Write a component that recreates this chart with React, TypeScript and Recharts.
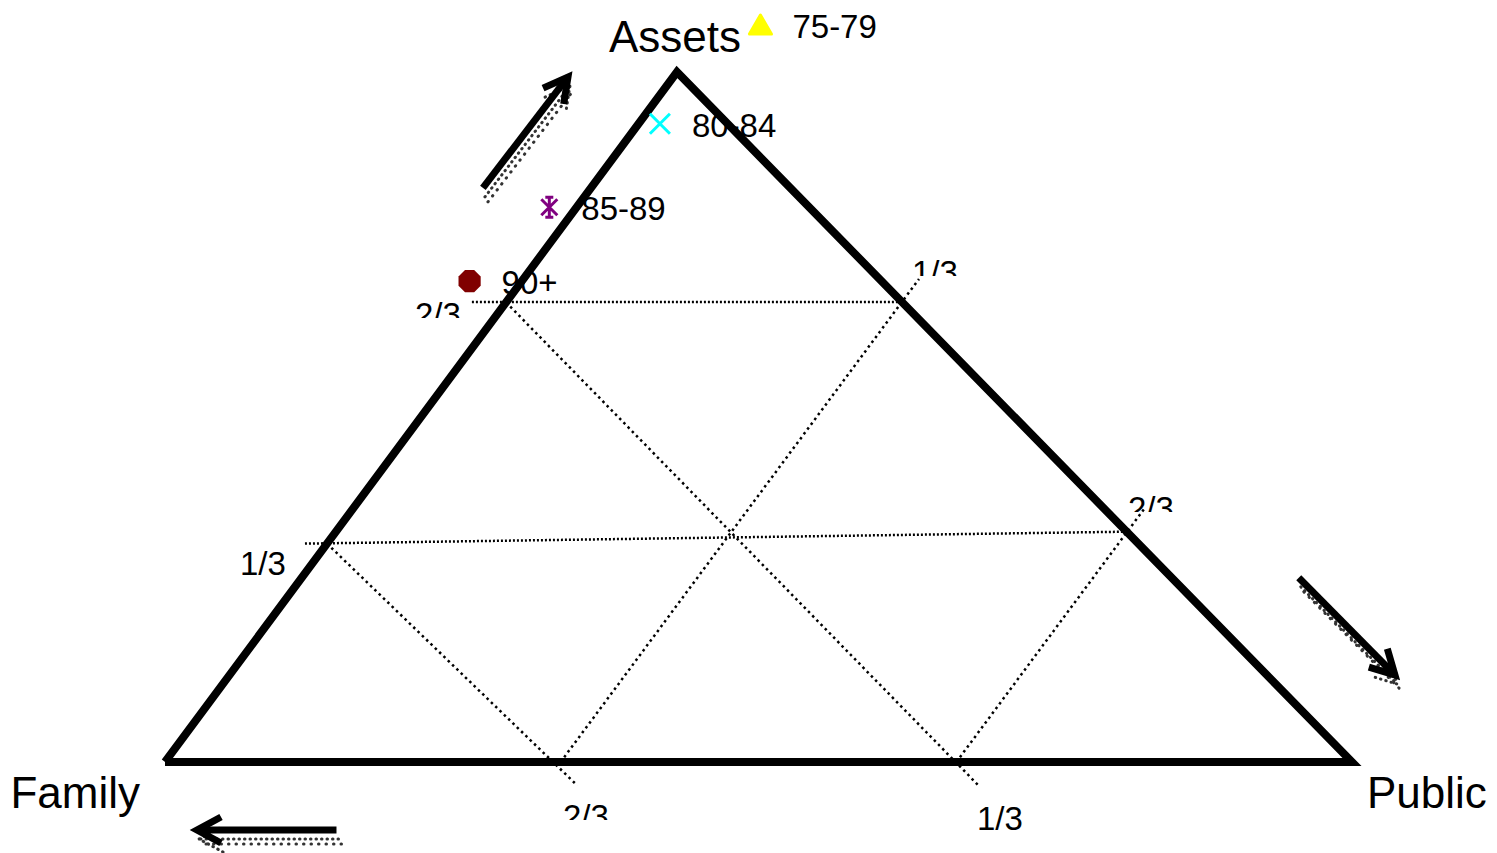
import { ScatterChart, Scatter, XAxis, YAxis } from "recharts";

// Ternary diagram of how old-age support is split between Family, Public
// and Assets, one marker per age group. Every position is given as
// (assets share, public share); the family share is what is left over.

const W = 1497;
const H = 853;

// the Assets corner sits this far along the Family -> Public base
const APEX_SHIFT = 0.4313;

const AGE_GROUPS = ["75-79", "80-84", "85-89", "90+"];
const AGE_ASSETS = [1.068, 0.925, 0.804, 0.697];
const AGE_PUBLIC = [0.041, 0.018, -0.023, -0.044];

const CORNERS = ["Family", "Assets", "Public"];
const CORNER_ASSETS = [0, 1, 0];
const CORNER_PUBLIC = [0, 0, 1];

// guide lines at 1/3 and 2/3: [assets, public] of start and end
const GUIDE_FROM = [
  [0.6667, -0.029],
  [0.3165, -0.0186],
  [0, 0.3333],
  [0, 0.6667],
  [0.6662, 0],
  [0.3165, 0],
];
const GUIDE_TO = [
  [0.6667, 0.3333],
  [0.3338, 0.6662],
  [0.7, 0.3333],
  [0.367, 0.6667],
  [-0.034, 0.7],
  [-0.034, 0.362],
];

const GUIDE_LABELS = ["2/3", "1/3", "1/3", "2/3", "2/3", "1/3"];
const GUIDE_LABEL_ASSETS = [0.6319, 0.271, 0.6928, 0.3507, -0.0957, -0.0986];
const GUIDE_LABEL_PUBLIC = [-0.0619, -0.0537, 0.3305, 0.66, 0.3766, 0.7266];
const GUIDE_LABEL_CUT = [true, false, true, true, true, false];

// direction arrows next to each side
const ARROW_FROM = [
  [0.832, -0.091],
  [0.267, 0.84],
  [-0.0986, 0.187],
];
const ARROW_TO = [
  [0.9928, -0.0887],
  [0.1261, 0.9818],
  [-0.0986, 0.0695],
];

const FONT = "'Liberation Sans', Arial, sans-serif";

const toXY = (assets: number, pub: number) => ({
  x: pub + APEX_SHIFT * assets,
  y: assets,
});

const X_DOMAIN = [-165 / 1187, 1332 / 1187];
const Y_DOMAIN = [-91 / 690, 762 / 690];

const ageData = AGE_GROUPS.map((name, i) => ({
  name,
  ...toXY(AGE_ASSETS[i], AGE_PUBLIC[i]),
}));

const cornerData = CORNERS.map((name, i) => ({
  name,
  ...toXY(CORNER_ASSETS[i], CORNER_PUBLIC[i]),
}));
const triangleData = [...cornerData, cornerData[0]];

const guideData = GUIDE_FROM.map((from, i) => [
  toXY(from[0], from[1]),
  toXY(GUIDE_TO[i][0], GUIDE_TO[i][1]),
]);

const guideLabelData = GUIDE_LABELS.map((name, i) => ({
  name,
  cut: GUIDE_LABEL_CUT[i],
  ...toXY(GUIDE_LABEL_ASSETS[i], GUIDE_LABEL_PUBLIC[i]),
}));

const arrowData = ARROW_FROM.map((from, i) => [
  toXY(from[0], from[1]),
  toXY(ARROW_TO[i][0], ARROW_TO[i][1]),
]);

const Nothing = () => <g />;

function AgeMarker(props: any) {
  const { cx, cy, payload } = props;
  let mark: any = null;
  if (payload.name === "75-79") {
    mark = (
      <path
        d={`M${cx},${cy - 10} L${cx + 11},${cy + 9} L${cx - 11},${cy + 9} Z`}
        fill="#FFFF00"
        stroke="#FFFF00"
        strokeWidth={3}
        strokeLinejoin="round"
      />
    );
  } else if (payload.name === "80-84") {
    mark = (
      <path
        d={`M${cx - 10},${cy - 10} L${cx + 10},${cy + 10} M${cx + 10},${cy - 10} L${cx - 10},${cy + 10}`}
        stroke="#00FFFF"
        strokeWidth={3}
      />
    );
  } else if (payload.name === "85-89") {
    mark = (
      <path
        d={`M${cx - 8},${cy - 8} L${cx + 8},${cy + 8} M${cx + 8},${cy - 8} L${cx - 8},${cy + 8} M${cx},${cy - 10} L${cx},${cy + 10} M${cx - 4},${cy - 10} L${cx + 4},${cy - 10} M${cx - 4},${cy + 10} L${cx + 4},${cy + 10}`}
        stroke="#800080"
        strokeWidth={3}
      />
    );
  } else {
    const r = 12;
    const pts = Array.from({ length: 8 }, (_, k) => {
      const a = ((k + 0.5) * Math.PI) / 4;
      return `${cx + r * Math.cos(a)},${cy + r * Math.sin(a)}`;
    }).join(" ");
    mark = <polygon points={pts} fill="#800000" />;
  }
  return (
    <g>
      {mark}
      <text x={cx + 32} y={cy + 13} fontSize={33} fontFamily={FONT} fill="#000">
        {payload.name}
      </text>
    </g>
  );
}

// corner titles sit outside each corner
const TITLE_POS: Record<string, { dx: number; dy: number; anchor: "start" | "middle" | "end" }> = {
  Family: { dx: -25, dy: 46, anchor: "end" },
  Assets: { dx: -2, dy: -20, anchor: "middle" },
  Public: { dx: 15, dy: 46, anchor: "start" },
};

function CornerTitle(props: any) {
  const { cx, cy, payload } = props;
  const pos = TITLE_POS[payload.name];
  if (!pos) return <g />;
  return (
    <text
      x={cx + pos.dx}
      y={cy + pos.dy}
      textAnchor={pos.anchor}
      fontSize={44}
      fontFamily={FONT}
      fill="#000"
    >
      {payload.name}
    </text>
  );
}

function GuideLabel(props: any) {
  const { cx, cy, payload, index } = props;
  const id = `guide-cut-${index}`;
  return (
    <g>
      {payload.cut && (
        <defs>
          <clipPath id={id}>
            <rect x={cx - 5} y={cy - 40} width={70} height={32} />
          </clipPath>
        </defs>
      )}
      <text
        x={cx}
        y={cy}
        fontSize={33}
        fontFamily={FONT}
        fill="#000"
        clipPath={payload.cut ? `url(#${id})` : undefined}
      >
        {payload.name}
      </text>
    </g>
  );
}

const SHADOW = {
  stroke: "#333",
  strokeWidth: 3,
  strokeLinecap: "round" as const,
};

export default function App() {
  return (
    <div style={{ position: "absolute", left: 0, top: 0, width: W, height: H, background: "#fff" }}>
      <ScatterChart width={W} height={H} margin={{ top: 0, right: 0, bottom: 0, left: 0 }}>
        <defs>
          <marker
            id="head"
            markerUnits="userSpaceOnUse"
            viewBox="-40 -25 60 50"
            markerWidth={60}
            markerHeight={50}
            refX={0}
            refY={0}
            orient="auto"
          >
            <path d="M-24,-13 L0,0 L-24,13" fill="none" stroke="#000" strokeWidth={7} />
          </marker>
          <marker
            id="head-shadow"
            markerUnits="userSpaceOnUse"
            viewBox="-40 -25 60 50"
            markerWidth={60}
            markerHeight={50}
            refX={0}
            refY={0}
            orient="auto"
          >
            <path
              d="M-24,-13 L0,0 L-24,13"
              fill="none"
              stroke="#333"
              strokeWidth={3}
              strokeDasharray="0.5 5"
              strokeLinecap="round"
            />
          </marker>
        </defs>
        <XAxis type="number" dataKey="x" domain={X_DOMAIN} hide allowDataOverflow />
        <YAxis type="number" dataKey="y" domain={Y_DOMAIN} hide allowDataOverflow />

        {guideData.map((seg, i) => (
          <Scatter
            key={`guide-${i}`}
            data={seg}
            line={{ stroke: "#000", strokeWidth: 2.5, strokeDasharray: i < 2 ? "2 2" : "2.5 3.5" }}
            lineType="joint"
            shape={Nothing}
            isAnimationActive={false}
          />
        ))}

        <Scatter
          data={triangleData}
          line={{ stroke: "#000", strokeWidth: 8, strokeLinejoin: "miter" }}
          lineType="joint"
          shape={Nothing}
          isAnimationActive={false}
        />

        {arrowData.map((seg, i) => (
          <Scatter
            key={`arrow-shadow-a-${i}`}
            data={seg}
            line={{
              ...SHADOW,
              strokeDasharray: "0.5 5",
              transform: "translate(2,9)",
              markerEnd: "url(#head-shadow)",
            }}
            lineType="joint"
            shape={Nothing}
            isAnimationActive={false}
          />
        ))}
        {arrowData.map((seg, i) => (
          <Scatter
            key={`arrow-shadow-b-${i}`}
            data={seg}
            line={{
              ...SHADOW,
              strokeDasharray: "0.5 7",
              transform: "translate(5,14)",
            }}
            lineType="joint"
            shape={Nothing}
            isAnimationActive={false}
          />
        ))}
        {arrowData.map((seg, i) => (
          <Scatter
            key={`arrow-${i}`}
            data={seg}
            line={{ stroke: "#000", strokeWidth: 7, markerEnd: "url(#head)" }}
            lineType="joint"
            shape={Nothing}
            isAnimationActive={false}
          />
        ))}

        <Scatter data={guideLabelData} shape={GuideLabel} isAnimationActive={false} />
        <Scatter data={cornerData} shape={CornerTitle} isAnimationActive={false} />
        <Scatter data={ageData} shape={AgeMarker} isAnimationActive={false} />
      </ScatterChart>
    </div>
  );
}
